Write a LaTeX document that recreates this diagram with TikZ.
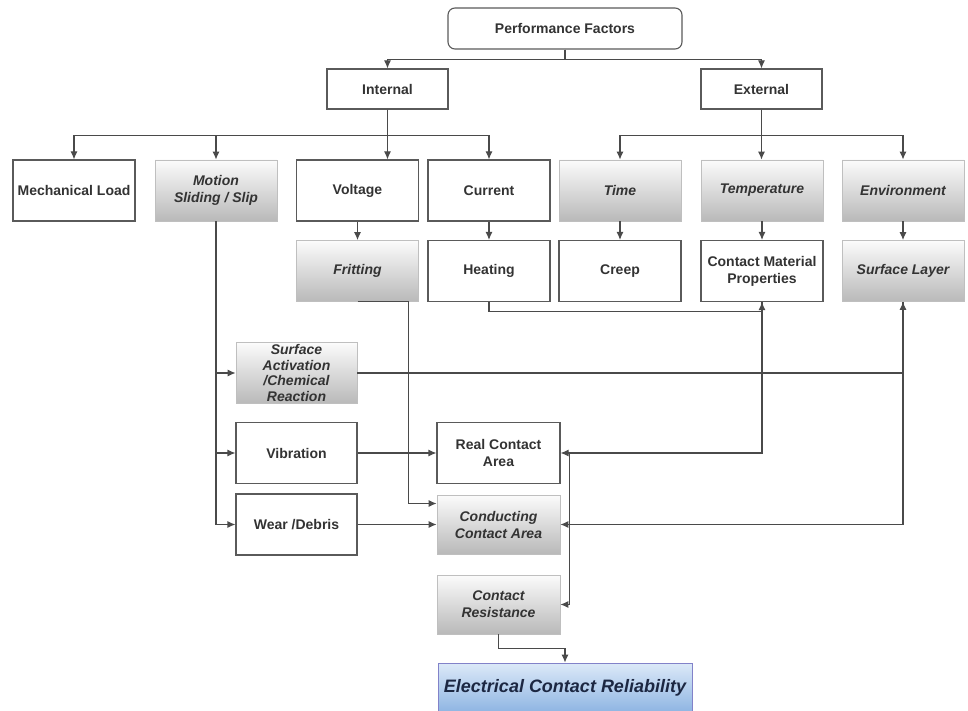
\documentclass[tikz,border=0pt]{standalone}
\usepackage{fontspec}
\setmainfont{Liberation Sans}
\usetikzlibrary{arrows.meta}
\definecolor{linec}{HTML}{4A4A4A}
\definecolor{boxc}{HTML}{5A5A5A}
\definecolor{txtc}{HTML}{333333}
\definecolor{bluetop}{HTML}{DCE9F8}
\definecolor{bluebot}{HTML}{8DB4E2}
\definecolor{navy}{HTML}{1C2742}
\tikzset{
  plain/.style={draw=boxc, line width=1.1pt, fill=white, minimum width=122pt, minimum height=61pt,
    align=center, inner sep=1pt, text=txtc, font=\fontsize{14}{17}\selectfont\bfseries},
  shaded/.style={plain, draw=gray!50, line width=0.8pt, top color=gray!3, bottom color=gray!55,
    font=\fontsize{14}{17}\selectfont\bfseries\itshape},
  link/.style={draw=linec, line width=1.1pt, -{Latex[length=8pt,width=7pt]}},
}
\begin{document}
\begin{tikzpicture}[x=1pt, y=-1pt]
\useasboundingbox (0,0) rectangle (968,711);
\node[plain, rounded corners=7pt, minimum width=234pt, minimum height=41pt] (pf) at (565,28.5) {Performance Factors};
\node[plain, minimum width=121pt, minimum height=40pt] (int) at (387.5,89) {Internal};
\node[plain, minimum width=121pt, minimum height=40pt] (ext) at (761.5,89) {External};
\node[plain] (mech) at (74,190.5) {Mechanical Load};
\node[shaded] (mot) at (216,190.5) {Motion\\Sliding / Slip};
\node[plain] (volt) at (357.5,190.5) {Voltage};
\node[plain] (cur) at (489,190.5) {Current};
\node[shaded] (time) at (620,190.5) {Time};
\node[shaded] (temp) at (762,190.5) {Temperature};
\node[shaded] (env) at (903,190.5) {Environment};
\node[shaded] (frit) at (357.5,271) {Fritting};
\node[plain] (heat) at (489,271) {Heating};
\node[plain] (creep) at (620,271) {Creep};
\node[plain] (cmp) at (762,271) {Contact Material\\Properties};
\node[shaded] (sl) at (903,271) {Surface Layer};
\node[shaded, minimum width=121pt, font=\fontsize{14}{15.5}\selectfont\bfseries\itshape] (sa) at (296.5,373) {Surface\\Activation\\/Chemical\\Reaction};
\node[plain, minimum width=121pt] (vib) at (296.5,453) {Vibration};
\node[plain, minimum width=121pt] (wear) at (296.5,524.5) {Wear /Debris};
\node[plain, minimum width=123pt] (rca) at (498.5,453) {Real Contact\\Area};
\node[shaded, minimum width=123pt, minimum height=59pt] (cca) at (498.5,524.5) {Conducting\\Contact Area};
\node[shaded, minimum width=123pt, minimum height=59pt] (cr) at (498.5,604.5) {Contact\\Resistance};
\node[plain, draw=gray!60!blue!70, line width=0.8pt, top color=bluetop, bottom color=bluebot,
  minimum width=254pt, minimum height=50pt, text=navy,
  font=\fontsize{18}{21}\selectfont\bfseries\itshape] (ecr) at (565,688) {Electrical Contact Reliability};
\draw[link] (pf.south) -- ++(0,10) -| (int.north);
\draw[link] (pf.south) -- ++(0,10) -| (ext.north);
\draw[link] (int.south) -- ++(0,26) -| (mech.north);
\draw[link] (int.south) -- ++(0,26) -| (mot.north);
\draw[link] (int.south) -- (int.south |- volt.north);
\draw[link] (int.south) -- ++(0,26) -| (cur.north);
\draw[link] (ext.south) -- ++(0,26) -| (time.north);
\draw[link] (ext.south) -- (ext.south |- temp.north);
\draw[link] (ext.south) -- ++(0,26) -| (env.north);
\draw[link] (volt.south) -- (frit.north);
\draw[link] (cur.south) -- (heat.north);
\draw[link] (time.south) -- (creep.north);
\draw[link] (temp.south) -- (cmp.north);
\draw[link] (env.south) -- (sl.north);
\draw[link] (heat.south) -- ++(0,9) -| (cmp.south);
\draw[link] (frit.south) -- ([xshift=-10]frit.south east) |- ([yshift=21]cca.west);
\draw[link] (mot.south) |- (sa.west);
\draw[link] (mot.south) |- (vib.west);
\draw[link] (mot.south) |- (wear.west);
\draw[link] (sa.east) -| (sl.south);
\draw[link] (vib.east) -- (rca.west);
\draw[link] (wear.east) -- (cca.west);
\draw[link] (cmp.south) |- (rca.east);
\draw[link] (sl.south) |- (cca.east);
\draw[link] ([xshift=9]rca.east) |- (cr.east);
\draw[link] (cr.south) -- ++(0,14) -| (ecr.north);
\end{tikzpicture}
\end{document}
